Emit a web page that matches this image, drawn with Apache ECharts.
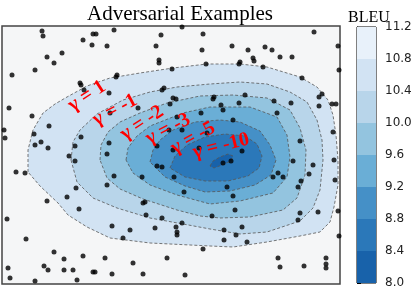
<!DOCTYPE html>
<html><head><meta charset="utf-8">
<script src="https://cdn.jsdelivr.net/npm/echarts@6/dist/echarts.min.js"></script>
<style>html,body{margin:0;padding:0;background:#fff}#c{width:415px;height:292px}</style>
</head><body><div id="c"></div>
<script>
// colour-bar levels (BLEU) and band colours, low -> high
const levels = [8.0, 8.4, 8.8, 9.2, 9.6, 10.0, 10.4, 10.8, 11.2];
const bandColors = ['#1862aa', '#2b78b9', '#4590c7', '#6aaed6', '#93c4df', '#b8d5ea', '#d2e3f3', '#e8f1fa'];

// contour label texts (outer -> inner)
const contourNames = ['γ = 1', 'γ = -1', 'γ = -2', 'γ = -3', 'γ = -5', 'γ = -10'];

// contour outlines in data space (x, y), outer -> inner
const contour1 = [[28,172],[28,150],[33,130],[43,113],[55,104],[67,97],[87,86],[110,78],[140,73],[173,68],[207,64],[240,64],[267,67],[300,77],[317,87],[328,100],[333,115],[336,135],[338,160],[338,185],[334,207],[330,222],[320,232],[300,236],[267,242],[233,247],[210,246],[150,243],[110,238],[87,227],[68,215],[58,203],[40,186]];
const contour2 = [[71,160],[73,142],[80,130],[97,114],[123,100],[150,92],[177,87],[210,84],[240,82],[267,84],[290,92],[307,102],[317,120],[322,140],[323,160],[320,190],[313,208],[300,221],[267,232],[240,234],[210,229],[183,224],[150,218],[117,208],[93,198],[77,182]];
const contour3 = [[100,160],[101,145],[108,132],[120,122],[140,113],[167,103],[200,96],[233,95],[267,98],[290,110],[300,128],[306,150],[305,175],[297,198],[283,210],[250,217],[220,218],[200,216],[177,210],[143,199],[120,189],[107,178]];
const contour4 = [[126,160],[128,148],[137,136],[150,126],[183,113],[210,107],[250,107],[277,117],[287,135],[290,157],[287,177],[273,193],[240,201],[210,204],[177,195],[150,185],[133,173]];
const contour5 = [[150,162],[153,150],[160,140],[173,130],[195,122],[220,120],[240,122],[260,131],[270,145],[276,160],[271,175],[255,185],[230,191],[205,192],[185,186],[165,177]];
const contour6 = [[170,168],[175,156],[187,145],[205,137],[225,134],[245,136],[257,144],[262,156],[259,168],[248,176],[228,181],[205,181],[185,177]];
const contour7 = [[210,166],[213,161],[220,157],[228,154],[233,156],[231,161],[222,165],[214,168]];
const contours = [contour1, contour2, contour3, contour4, contour5, contour6, contour7];

// adversarial example points (x, y)
const examples = [
[42,31],[43,36],[93,34],[96,34],[114,30],[83,40],[92,45],[107,46],[161,35],[182,27],[203,34],[156,46],[202,50],[47,57],[62,53],[54,63],[159,60],[159,63],[206,64],[35,70],[12,75],[117,75],[116,77],[172,69],[80,83],[81,85],[84,90],[109,93],[162,90],[164,88],[173,98],[176,99],[170,104],[9,108],[32,116],[49,126],[110,113],[138,108],[177,117],[201,113],[4,130],[5,138],[34,134],[81,137],[35,145],[41,142],[48,148],[75,146],[109,143],[173,150],[199,148],[157,146],[169,130],[182,130],
[107,154],[69,156],[75,161],[157,166],[162,167],[16,172],[25,173],[114,176],[142,177],[174,177],[76,188],[107,185],[184,192],[67,197],[47,201],[143,203],[145,202],[79,209],[146,215],[162,218],[7,219],[182,223],[112,226],[155,228],[176,227],[130,230],[177,232],[177,235],[123,238],[26,239],[203,249],[54,252],[83,256],[64,259],[105,258],[167,258],[133,263],[44,266],[48,270],[8,268],[64,270],[73,270],[93,272],[95,272],[112,274],[143,274],[185,275],[10,278],[35,281],[77,280],
[314,32],[338,46],[232,46],[248,50],[265,47],[272,50],[253,58],[254,61],[280,57],[292,57],[240,62],[239,64],[263,67],[339,70],[302,78],[214,97],[213,99],[245,95],[239,103],[221,105],[223,110],[274,101],[291,103],[319,97],[322,94],[319,106],[332,104],[336,104],[277,113],[233,120],[207,133],[300,141],[333,132],[242,151],[231,161],[223,163],[293,161],[334,160],[313,165],[309,174],[278,173],[273,177],[283,177],[301,181],[298,187],[335,180],[227,187],[233,196],[235,210],[212,216],[300,213],[298,220],[318,212],[338,211],[242,227],[224,230],[236,235],[224,240],[247,242],[339,236],[278,258],[280,267],[304,266],[326,258],[326,264],[326,268]
];

// where the inline contour labels sit (x, y, angle in degrees)
const labelPlacement = [[87,96,33],[115,110,28],[142,123,33],[168,129,27],[193,138,29],[221,146,14]];

const chart = echarts.init(document.getElementById('c'), null, {renderer: 'canvas'});

const series = [];
contours.forEach((pts, i) => {
  series.push({
    type: 'custom', xAxisIndex: 0, yAxisIndex: 0, silent: true, z: 2,
    data: [pts[0]], encode: {x: 0, y: 1},
    renderItem: (params, api) => ({
      type: 'polygon',
      shape: {points: pts.map(p => api.coord(p))},
      style: {fill: bandColors[6 - i], stroke: '#555', lineWidth: 0.8, lineDash: [3, 2]}
    })
  });
});
series.push({
  type: 'scatter', xAxisIndex: 0, yAxisIndex: 0, z: 5, silent: true,
  symbolSize: 5, itemStyle: {color: '#000'}, data: examples
});
series.push({
  type: 'custom', xAxisIndex: 0, yAxisIndex: 0, z: 6, silent: true,
  data: labelPlacement.map((p, i) => [p[0], p[1], p[2], i]), encode: {x: 0, y: 1},
  renderItem: (params, api) => {
    const c = api.coord([api.value(0), api.value(1)]);
    return {
      type: 'text', x: c[0], y: c[1], rotation: api.value(2) * Math.PI / 180,
      style: {text: contourNames[api.value(3)], fill: '#ff0000', font: 'bold 20px "Liberation Serif"', align: 'center', verticalAlign: 'middle'}
    };
  }
});
series.push({
  type: 'custom', xAxisIndex: 1, yAxisIndex: 1, silent: true,
  data: levels.slice(0, -1).map((lo, i) => [0, lo, levels[i + 1], i]), encode: {x: 0, y: [1, 2]},
  renderItem: (params, api) => {
    const p0 = api.coord([0, api.value(1)]);
    const p1 = api.coord([1, api.value(2)]);
    return {type: 'rect', shape: {x: p0[0], y: p1[1], width: p1[0] - p0[0], height: p0[1] - p1[1]},
      style: {fill: bandColors[api.value(3)]}};
  }
});

const hidden = {show: false};
chart.setOption({
  animation: false,
  title: [
    {text: 'Adversarial Examples', left: 175, top: -1, textAlign: 'center',
     textStyle: {fontFamily: 'Liberation Serif', fontSize: 21, fontWeight: 'normal', color: '#000'}},
    {text: 'BLEU', left: 364, top: 5, textAlign: 'center',
     textStyle: {fontFamily: 'Liberation Serif', fontSize: 16, fontWeight: 'normal', color: '#000'}}
  ],
  grid: [
    {left: 2, top: 26, width: 338, height: 258, show: true, backgroundColor: '#f5f6f7', borderColor: '#444', borderWidth: 1.5, z: 0},
    {left: 357, top: 27, width: 19, height: 256, show: true, backgroundColor: 'transparent', borderColor: '#000', borderWidth: 1}
  ],
  xAxis: [
    {gridIndex: 0, type: 'value', min: 2, max: 340, axisLine: hidden, axisTick: hidden, axisLabel: hidden, splitLine: hidden},
    {gridIndex: 1, type: 'value', min: 0, max: 1, axisLine: hidden, axisTick: hidden, axisLabel: hidden, splitLine: hidden}
  ],
  yAxis: [
    {gridIndex: 0, type: 'value', min: 26, max: 284, inverse: true, axisLine: hidden, axisTick: hidden, axisLabel: hidden, splitLine: hidden},
    {gridIndex: 1, type: 'value', min: 8.0, max: 11.2, interval: 0.4, position: 'right',
     axisLine: {show: true, lineStyle: {color: '#000', width: 1}},
     axisTick: {show: true, inside: false, length: 4, lineStyle: {color: '#000'}},
     axisLabel: {show: true, margin: 9, color: '#222', fontFamily: 'DejaVu Sans', fontSize: 12, formatter: v => v.toFixed(1)},
     splitLine: hidden}
  ],
  series: series
});
</script></body></html>
